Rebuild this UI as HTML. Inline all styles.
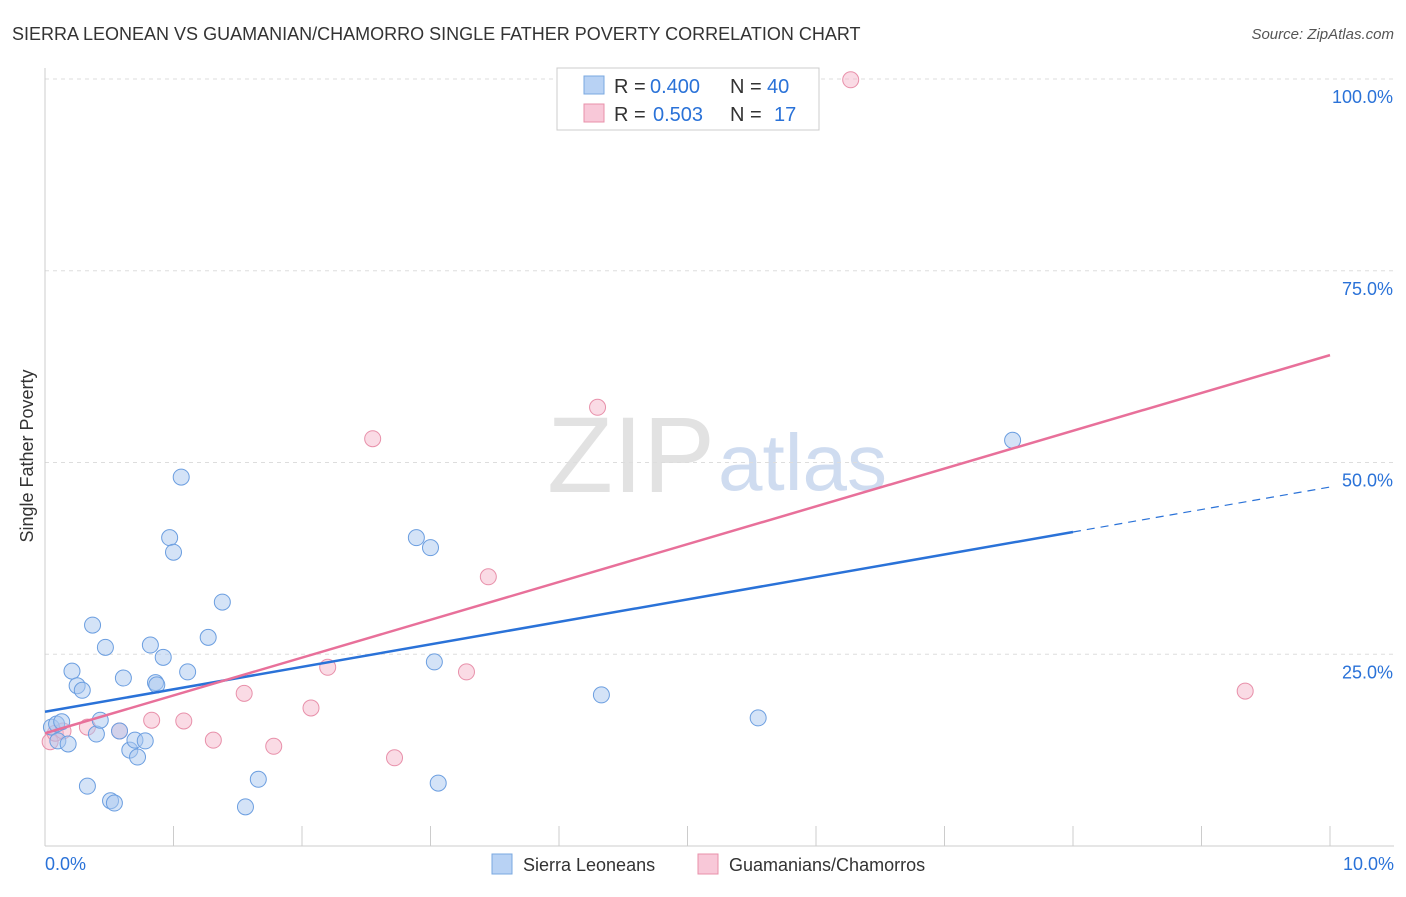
<!DOCTYPE html>
<html><head><meta charset="utf-8"><style>
body{margin:0;background:#fff;font-family:"Liberation Sans",sans-serif;}
svg text{font-family:"Liberation Sans",sans-serif;}
</style></head><body>
<svg id="chart" width="1406" height="892">
<text x="12" y="40" font-size="18" fill="#333">SIERRA LEONEAN VS GUAMANIAN/CHAMORRO SINGLE FATHER POVERTY CORRELATION CHART</text>
<text x="1394" y="39" font-size="15" fill="#555" font-style="italic" text-anchor="end">Source: ZipAtlas.com</text>
<text x="33" y="456" font-size="18" fill="#333" transform="rotate(-90 33 456)" text-anchor="middle">Single Father Poverty</text>
<text x="715" y="492" font-size="108" fill="#e2e2e2" text-anchor="end" font-family="Liberation Serif">ZIP</text>
<text x="718" y="490" font-size="80" fill="#cfdcf0">atlas</text>
<g id="grid"></g><g id="marks"></g>
<g>
<rect x="557" y="68" width="262" height="62" fill="#fff" stroke="#ccc"/>
<rect x="584" y="76" width="20" height="18" fill="#b8d2f4" stroke="#7aa8e0"/>
<text x="614" y="93" font-size="20" fill="#333">R =</text>
<text x="650" y="93" font-size="20" fill="#2a72d8">0.400</text>
<text x="730" y="93" font-size="20" fill="#333">N =</text>
<text x="767" y="93" font-size="20" fill="#2a72d8">40</text>
<rect x="584" y="104" width="20" height="18" fill="#f8c8d8" stroke="#e890aa"/>
<text x="614" y="121" font-size="20" fill="#333">R =</text>
<text x="653" y="121" font-size="20" fill="#2a72d8">0.503</text>
<text x="730" y="121" font-size="20" fill="#333">N =</text>
<text x="774" y="121" font-size="20" fill="#2a72d8">17</text>
</g>
<g>
<rect x="492" y="854" width="20" height="20" fill="#b8d2f4" stroke="#7aa8e0"/>
<text x="523" y="871" font-size="18" fill="#333">Sierra Leoneans</text>
<rect x="698" y="854" width="20" height="20" fill="#f8c8d8" stroke="#e890aa"/>
<text x="729" y="871" font-size="18" fill="#333">Guamanians/Chamorros</text>
</g>
</svg>
<script>
const blueX=[0.05,0.09,0.13,0.10,0.18,0.21,0.25,0.29,0.33,0.37,0.40,0.43,0.47,0.51,0.54,0.58,0.61,0.66,0.70,0.72,0.78,0.82,0.86,0.87,0.92,0.97,1.00,1.06,1.11,1.27,1.38,1.56,1.66,2.89,3.00,3.03,3.06,4.33,5.55,7.53];
const blueY=[15.5,15.9,16.2,13.7,13.3,22.8,20.9,20.3,7.8,28.8,14.6,16.4,25.9,5.9,5.6,15.0,21.9,12.5,13.8,11.6,13.7,26.2,21.3,21.0,24.6,40.2,38.3,48.1,22.7,27.2,31.8,5.1,8.7,40.2,38.9,24.0,8.2,19.7,16.7,52.9];
const pinkX=[0.04,0.08,0.14,0.33,0.58,0.83,1.08,1.31,1.55,1.78,2.07,2.20,2.55,2.72,3.28,3.45,4.30,6.27,9.34];
const pinkY=[13.6,14.7,15.0,15.5,15.0,16.4,16.3,13.8,19.9,13.0,18.0,23.3,53.1,11.5,22.7,35.1,57.2,99.9,20.2];
const blueTrend=[17.5,46.8];
const pinkTrend=[14.7,64.0];
const yTicks=[25,50,75,100];
const xTickLabels=["0.0%","10.0%"];
const NS="http://www.w3.org/2000/svg";
const sx=v=>45+v*128.5, sy=v=>846-v*7.67;
function mk(tag,attrs,parent){const e=document.createElementNS(NS,tag);for(const k in attrs)e.setAttribute(k,attrs[k]);parent.appendChild(e);return e;}
const grid=document.getElementById('grid'), marks=document.getElementById('marks');
yTicks.forEach(t=>{
 const l=mk('line',{x1:45,x2:1394,y1:sy(t),y2:sy(t),stroke:'#ddd','stroke-dasharray':'4,4'},grid);
 
 
 const tx=mk('text',{x:1393,y:sy(t)+24,'font-size':18,fill:'#2a72d8','text-anchor':'end'},grid);
 tx.textContent=t.toFixed(1)+'%';
 
 
});
const ax=mk('line',{x1:45,x2:1394,y1:846,y2:846,stroke:'#ccc'},grid);


const ay=mk('line',{x1:45,x2:45,y1:68,y2:846,stroke:'#ccc'},grid);


for(let i=0;i<=10;i++){const t=mk('line',{x1:sx(i),x2:sx(i),y1:826,y2:846,stroke:'#ccc'},grid);
 
 }
[[0,'start',45],[10,'end',1394]].forEach((d,i)=>{const t=mk('text',{x:d[2],y:870,'font-size':18,fill:'#2a72d8','text-anchor':d[1]},grid);t.textContent=xTickLabels[i];
 
 });
function dots(X,Y,fill,stroke,name){X.forEach((x,i)=>{const c=mk('circle',{cx:sx(x),cy:sy(Y[i]),r:8,fill:fill,'fill-opacity':0.5,stroke:stroke,'stroke-width':1},marks);
 
 });}
dots(pinkX,pinkY,'#f5b8cc','#e890aa','guamanian-point');
dots(blueX,blueY,'#a9c8f0','#6b9ee0','sierra-leonean-point');
const bEnd=8.0, bAt=blueTrend[0]+(blueTrend[1]-blueTrend[0])*bEnd/10;
const bl=mk('line',{x1:sx(0),y1:sy(blueTrend[0]),x2:sx(bEnd),y2:sy(bAt),stroke:'#2a72d8','stroke-width':2.5},marks);


const bd=mk('line',{x1:sx(bEnd),y1:sy(bAt),x2:sx(10),y2:sy(blueTrend[1]),stroke:'#2a72d8','stroke-width':1.2,'stroke-dasharray':'8,6'},marks);


const pl=mk('line',{x1:sx(0),y1:sy(pinkTrend[0]),x2:sx(10),y2:sy(pinkTrend[1]),stroke:'#e8709a','stroke-width':2.5},marks);


</script>
</body></html>
